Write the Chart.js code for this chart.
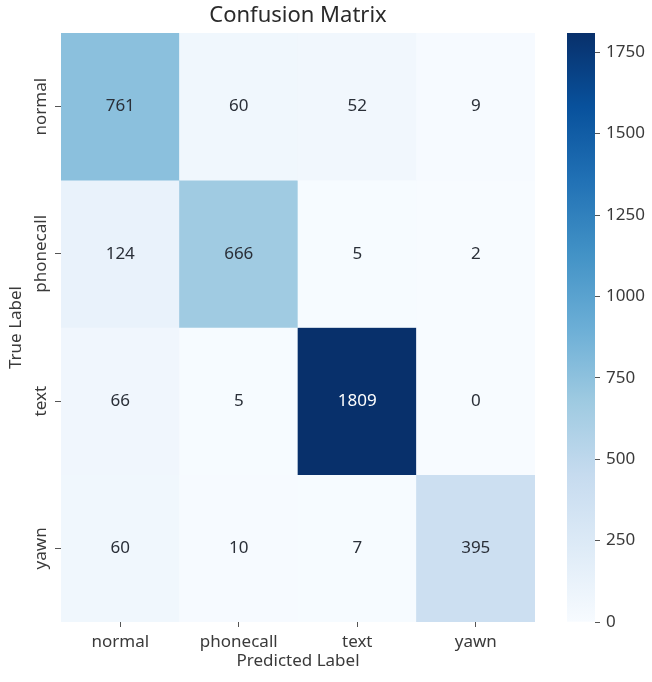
<!DOCTYPE html>
<html>
<head>
<meta charset="utf-8">
<script src="https://cdn.jsdelivr.net/npm/chart.js@4.4.0/dist/chart.umd.min.js"></script>
<style>
html, body { margin: 0; padding: 0; background: #ffffff; }
#wrap { position: relative; width: 652px; height: 682px; }
#main { position: absolute; left: 0; top: 0; }
#cbar { position: absolute; left: 540px; top: 0; }
</style>
</head>
<body>
<div id="wrap">
  <canvas id="main" width="596" height="682"></canvas>
  <canvas id="cbar" width="112" height="682"></canvas>
</div>
<script>
// ---- data ----
const predictedLabels = ['normal', 'phonecall', 'text', 'yawn'];
const trueLabels = ['normal', 'phonecall', 'text', 'yawn'];
const rowNormal = [761, 60, 52, 9];
const rowPhonecall = [124, 666, 5, 2];
const rowText = [66, 5, 1809, 0];
const rowYawn = [60, 10, 7, 395];
const colorbarTicks = [0, 250, 500, 750, 1000, 1250, 1500, 1750];

const matrix = [rowNormal, rowPhonecall, rowText, rowYawn];
const vmin = Math.min(...matrix.flat());
const vmax = Math.max(...matrix.flat());

const FONT = "'Noto Sans', 'DejaVu Sans', sans-serif";
const TXT = '#3a3a3a';
const TICK = '#555555';
Chart.defaults.font.family = FONT;
Chart.defaults.color = TXT;

// matplotlib "Blues" colormap anchor colours
const BLUES = [[247,251,255],[222,235,247],[198,219,239],[158,202,225],[107,174,214],[66,146,198],[33,113,181],[8,81,156],[8,48,107]];
function blues(t) {
  t = Math.min(1, Math.max(0, t));
  const p = t * 8;
  const i = Math.min(7, Math.floor(p));
  const f = p - i;
  const a = BLUES[i], b = BLUES[i + 1];
  return a.map((v, k) => Math.round(v + (b[k] - v) * f));
}
const rgbStr = c => `rgb(${c[0]},${c[1]},${c[2]})`;
const norm = v => (v - vmin) / (vmax - vmin);
function luminance(c) {
  const l = c.map(v => { v = v / 255; return v <= 0.03928 ? v / 12.92 : Math.pow((v + 0.055) / 1.055, 2.4); });
  return 0.2126 * l[0] + 0.7152 * l[1] + 0.0722 * l[2];
}
const textColorFor = v => luminance(blues(norm(v))) > 0.408 ? '#2a2f38' : '#ffffff';

// one floating-bar dataset per true-label row
const datasets = matrix.map((row, r) => ({
  label: trueLabels[r],
  data: row.map(() => [r - 0.5, r + 0.5]),
  backgroundColor: row.map(v => rgbStr(blues(norm(v)))),
  borderWidth: 0,
  grouped: false,
  barPercentage: 1,
  categoryPercentage: 1
}));

const annotate = {
  id: 'annotate',
  afterDatasetsDraw(chart) {
    const ctx = chart.ctx;
    ctx.save();
    ctx.font = `17px ${FONT}`;
    ctx.textAlign = 'center';
    ctx.textBaseline = 'middle';
    matrix.forEach((row, r) => {
      const meta = chart.getDatasetMeta(r);
      row.forEach((v, c) => {
        const p = meta.data[c].getCenterPoint();
        ctx.fillStyle = textColorFor(v);
        ctx.fillText(String(v), p.x, p.y);
      });
    });
    ctx.restore();
  }
};

const yTickLabels = {
  id: 'yTickLabels',
  afterDraw(chart) {
    const ctx = chart.ctx;
    const ys = chart.scales.y;
    ctx.save();
    ctx.font = `17px ${FONT}`;
    ctx.fillStyle = TXT;
    ctx.textAlign = 'center';
    ctx.textBaseline = 'alphabetic';
    ys.ticks.forEach(t => {
      const y = ys.getPixelForValue(t.value);
      ctx.save();
      ctx.translate(ys.right - 15, y);
      ctx.rotate(-Math.PI / 2);
      ctx.fillText(trueLabels[t.value], 0, 0);
      ctx.restore();
    });
    ctx.restore();
  }
};

new Chart(document.getElementById('main'), {
  type: 'bar',
  data: { labels: predictedLabels, datasets },
  plugins: [annotate, yTickLabels],
  options: {
    responsive: false,
    animation: false,
    devicePixelRatio: 1,
    layout: { padding: 0 },
    plugins: {
      legend: { display: false },
      tooltip: { enabled: false },
      title: {
        display: true,
        text: 'Confusion Matrix',
        color: '#2a2a2a',
        font: { family: FONT, size: 22, weight: 'normal' },
        padding: { top: 3, bottom: 3.6 }
      }
    },
    scales: {
      x: {
        type: 'category',
        offset: true,
        grid: { display: true, offset: false, drawOnChartArea: false, drawTicks: true, tickLength: 5, color: TICK, lineWidth: 1 },
        border: { display: false },
        ticks: { color: TXT, font: { family: FONT, size: 17 }, padding: 5, maxRotation: 0, autoSkip: false },
        title: { display: true, text: 'Predicted Label', color: TXT, font: { family: FONT, size: 17 }, padding: { top: 0, bottom: 11 } },
        afterFit(s) { s.height = 60; }
      },
      y: {
        type: 'linear',
        min: -0.5,
        max: 3.5,
        reverse: true,
        afterBuildTicks(s) { s.ticks = trueLabels.map((_, i) => ({ value: i })); },
        grid: { display: true, drawOnChartArea: false, drawTicks: true, tickLength: 6, color: TICK, lineWidth: 1 },
        border: { display: false },
        ticks: { display: false },
        title: { display: true, text: 'True Label', color: TXT, font: { family: FONT, size: 17 }, padding: { top: 6, bottom: 0 } },
        afterFit(s) { s.width = 61; }
      },
      ySpacer: {
        type: 'linear',
        position: 'right',
        display: true,
        grid: { display: false, drawTicks: false },
        border: { display: false },
        ticks: { display: false },
        afterFit(s) { s.width = 61; }
      }
    }
  }
});

function cbGradient(chart) {
  const area = chart.chartArea;
  if (!area) return rgbStr(BLUES[0]);
  const ys = chart.scales.y;
  const g = chart.ctx.createLinearGradient(0, ys.getPixelForValue(vmin), 0, ys.getPixelForValue(vmax));
  BLUES.forEach((c, i) => g.addColorStop(i / (BLUES.length - 1), rgbStr(c)));
  return g;
}

new Chart(document.getElementById('cbar'), {
  type: 'bar',
  data: {
    labels: ['colorbar'],
    datasets: [{
      data: [[vmin, vmax]],
      backgroundColor: ctx => cbGradient(ctx.chart),
      borderWidth: 0,
      barPercentage: 1,
      categoryPercentage: 1
    }]
  },
  options: {
    responsive: false,
    animation: false,
    devicePixelRatio: 1,
    layout: { padding: { left: 27, right: 0, top: 33, bottom: 60 } },
    plugins: { legend: { display: false }, tooltip: { enabled: false }, title: { display: false } },
    scales: {
      x: { display: false, offset: true },
      y: {
        position: 'right',
        min: vmin,
        max: vmax,
        afterBuildTicks(s) { s.ticks = colorbarTicks.map(v => ({ value: v })); },
        grid: { display: true, drawOnChartArea: false, drawTicks: true, tickLength: 5, color: TICK, lineWidth: 1 },
        border: { display: false },
        ticks: { color: TXT, font: { family: FONT, size: 17 }, padding: 6, callback: v => String(v) },
        afterFit(s) { s.width = 57; }
      }
    }
  }
});
</script>
</body>
</html>
